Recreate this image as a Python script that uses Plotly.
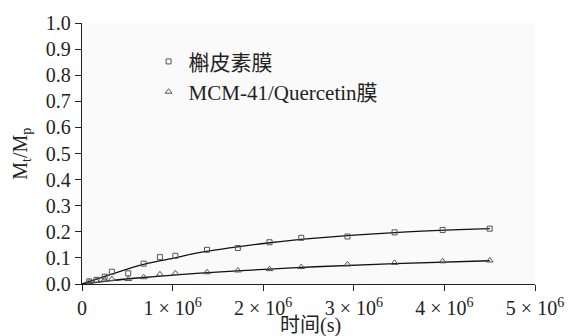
import plotly.graph_objects as go

# Measured release data (time in seconds)
t_points = [0.08e6, 0.16e6, 0.25e6, 0.33e6, 0.51e6, 0.68e6, 0.86e6, 1.03e6,
            1.38e6, 1.72e6, 2.07e6, 2.42e6, 2.93e6, 3.45e6, 3.98e6, 4.50e6]
quercetin_film = [0.010, 0.016, 0.028, 0.047, 0.041, 0.078, 0.103, 0.108,
                  0.131, 0.138, 0.160, 0.177, 0.182, 0.198, 0.207, 0.212]
mcm41_film = [0.007, 0.012, 0.016, 0.019, 0.019, 0.026, 0.037, 0.041,
              0.045, 0.052, 0.057, 0.065, 0.075, 0.081, 0.087, 0.090]

# Fitted curves
t_fit = [0, 0.32e6, 0.68e6, 1.04e6, 1.26e6, 2.07e6, 2.58e6, 3.45e6, 4.50e6]
quercetin_fit = [0, 0.037, 0.075, 0.101, 0.118, 0.158, 0.176, 0.197, 0.212]
mcm41_fit = [0, 0.013, 0.025, 0.035, 0.041, 0.057, 0.066, 0.078, 0.089]

x_tickvals = [0, 1e6, 2e6, 3e6, 4e6, 5e6]
x_ticktext = ["0", "1 × 10<sup>6</sup>", "2 × 10<sup>6</sup>", "3 × 10<sup>6</sup>",
              "4 × 10<sup>6</sup>", "5 × 10<sup>6</sup>"]
y_tickvals = [0.0, 0.1, 0.2, 0.3, 0.4, 0.5, 0.6, 0.7, 0.8, 0.9, 1.0]
y_ticktext = [f"{v:.1f}" for v in y_tickvals]

series_names = ["槲皮素膜", "MCM-41/Quercetin膜"]

FONT = "Liberation Serif, Times New Roman, Noto Sans CJK SC, serif"
MARK = "#555555"

fig = go.Figure()
fig.add_trace(go.Scatter(x=t_fit, y=quercetin_fit, mode="lines", line_shape="spline",
                         line=dict(color="#111111", width=1.3), showlegend=False,
                         hoverinfo="skip"))
fig.add_trace(go.Scatter(x=t_fit, y=mcm41_fit, mode="lines", line_shape="spline",
                         line=dict(color="#111111", width=1.3), showlegend=False,
                         hoverinfo="skip"))
fig.add_trace(go.Scatter(x=t_points, y=quercetin_film, mode="markers", name=series_names[0],
                         marker=dict(symbol="square-open", size=5, color=MARK,
                                     line=dict(width=1, color=MARK))))
fig.add_trace(go.Scatter(x=t_points, y=mcm41_film, mode="markers", name=series_names[1],
                         marker=dict(symbol="triangle-up-open", size=6, color=MARK,
                                     line=dict(width=1, color=MARK))))

fig.update_layout(
    width=576, height=336,
    margin=dict(l=82, r=32, t=16, b=52),
    paper_bgcolor="white", plot_bgcolor="#fafafa",
    font=dict(family=FONT, size=20, color="#222222"),
    showlegend=True,
    legend=dict(x=0.147, y=0.93, xanchor="left", yanchor="top",
                bgcolor="rgba(0,0,0,0)", font=dict(size=21, family=FONT),
                itemwidth=30, tracegroupgap=0),
    xaxis=dict(range=[0, 5e6], tickvals=x_tickvals, ticktext=x_ticktext,
               showgrid=False, zeroline=False, showline=True, linecolor="#222222",
               linewidth=1.3, ticks="outside", ticklen=6, tickcolor="#222222",
               tickfont=dict(size=20, family=FONT)),
    yaxis=dict(range=[0, 1.0], tickvals=y_tickvals, ticktext=y_ticktext,
               showgrid=False, zeroline=False, showline=True, linecolor="#222222",
               linewidth=1.3, ticks="outside", ticklen=6, tickcolor="#222222",
               tickfont=dict(size=20, family=FONT)),
    annotations=[
        dict(text="时间(s)", xref="paper", yref="paper", x=(315 - 82) / 462,
             y=(284 - 327) / 268, xanchor="center", yanchor="middle", showarrow=False,
             borderpad=0, font=dict(size=20, family=FONT)),
        dict(text="M<sub>t</sub>/M<sub>p</sub>", xref="paper", yref="paper",
             x=(20 - 82) / 462, y=(284 - 150) / 268, textangle=-90,
             xanchor="center", yanchor="middle", showarrow=False,
             font=dict(size=20, family=FONT)),
    ],
)

fig.write_html("out.html", config={"displayModeBar": False},
               post_script="document.body.style.margin='0';")
